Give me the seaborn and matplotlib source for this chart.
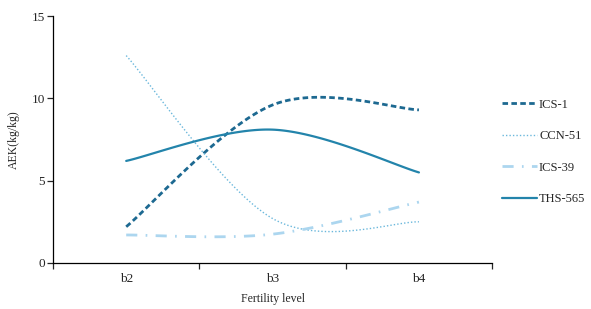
import numpy as np
import pandas as pd
import matplotlib
matplotlib.use('Agg')
import matplotlib.pyplot as plt
import seaborn as sns

# Data
levels = ["b2", "b3", "b4"]
ics_1 = [2.2, 9.6, 9.3]
ccn_51 = [12.6, 2.7, 2.5]
ics_39 = [1.7, 1.75, 3.7]
ths_565 = [6.2, 8.1, 5.5]

series = {"ICS-1": ics_1, "CCN-51": ccn_51, "ICS-39": ics_39, "THS-565": ths_565}

styles = {
    "ICS-1": dict(color="#1d6991", lw=2.0, dashes=(2.0, 1.2)),
    "CCN-51": dict(color="#6bb8dc", lw=1.0, dashes=(1, 1.5)),
    "ICS-39": dict(color="#acd6ef", lw=2.0, dashes=(4, 3, 0.6, 3)),
    "THS-565": dict(color="#2384ab", lw=1.6, dashes=None),
}


def smooth(y, n=60):
    # Excel-style smoothed line (Catmull-Rom as cubic Bezier), drawing only
    pts = np.column_stack([np.arange(len(y)), np.asarray(y, float)])
    ext = np.vstack([pts[0], pts, pts[-1]])
    out = []
    t = np.linspace(0, 1, n)[:, None]
    for i in range(len(pts) - 1):
        p0, p3 = ext[i + 1], ext[i + 2]
        c1 = p0 + (ext[i + 2] - ext[i]) / 6
        c2 = p3 - (ext[i + 3] - ext[i + 1]) / 6
        seg = (1 - t) ** 3 * p0 + 3 * (1 - t) ** 2 * t * c1 + 3 * (1 - t) * t ** 2 * c2 + t ** 3 * p3
        out.append(seg if i == 0 else seg[1:])
    return np.vstack(out)


sns.set_style("white")
plt.rcParams["font.family"] = ["Liberation Serif", "DejaVu Serif"]

fig = plt.figure(figsize=(5.91, 3.09), dpi=100)
ax = fig.add_axes([0.0897, 0.149, 0.743, 0.799])

for name, vals in series.items():
    xy = smooth(vals)
    df = pd.DataFrame({"x": xy[:, 0], "y": xy[:, 1]})
    st = styles[name]
    sns.lineplot(data=df, x="x", y="y", ax=ax, color=st["color"], lw=st["lw"],
                 label=name, sort=False)
    line = ax.lines[-1]
    if st["dashes"]:
        line.set_dashes(st["dashes"])

ax.set_xlim(-0.5, 2.5)
ax.set_ylim(0, 15)
ax.set_yticks([0, 5, 10, 15])
ax.set_xticks(range(len(levels)))
ax.set_xticklabels(levels)
ax.set_xticks([-0.5, 0.5, 1.5, 2.5], minor=True)
ax.tick_params(axis="x", which="major", length=0, labelsize=9.5, pad=7)
ax.tick_params(axis="x", which="minor", length=4, width=0.9, direction="out", bottom=True)
ax.tick_params(axis="y", length=4, width=0.9, direction="out", left=True, labelsize=9.5, pad=2)

sns.despine(ax=ax)
for s in ["left", "bottom"]:
    ax.spines[s].set_color("black")
    ax.spines[s].set_linewidth(0.9)

ax.set_xlabel("Fertility level", fontsize=8.5, labelpad=6)
ax.set_ylabel("AEK(kg/kg)", fontsize=8.5, labelpad=8)

ax.legend(loc="upper left", bbox_to_anchor=(1.01, 0.685), frameon=False, fontsize=9,
          handlelength=2.8, handletextpad=0.2, labelspacing=1.55, borderaxespad=0)

fig.savefig("out.png", dpi=100)
